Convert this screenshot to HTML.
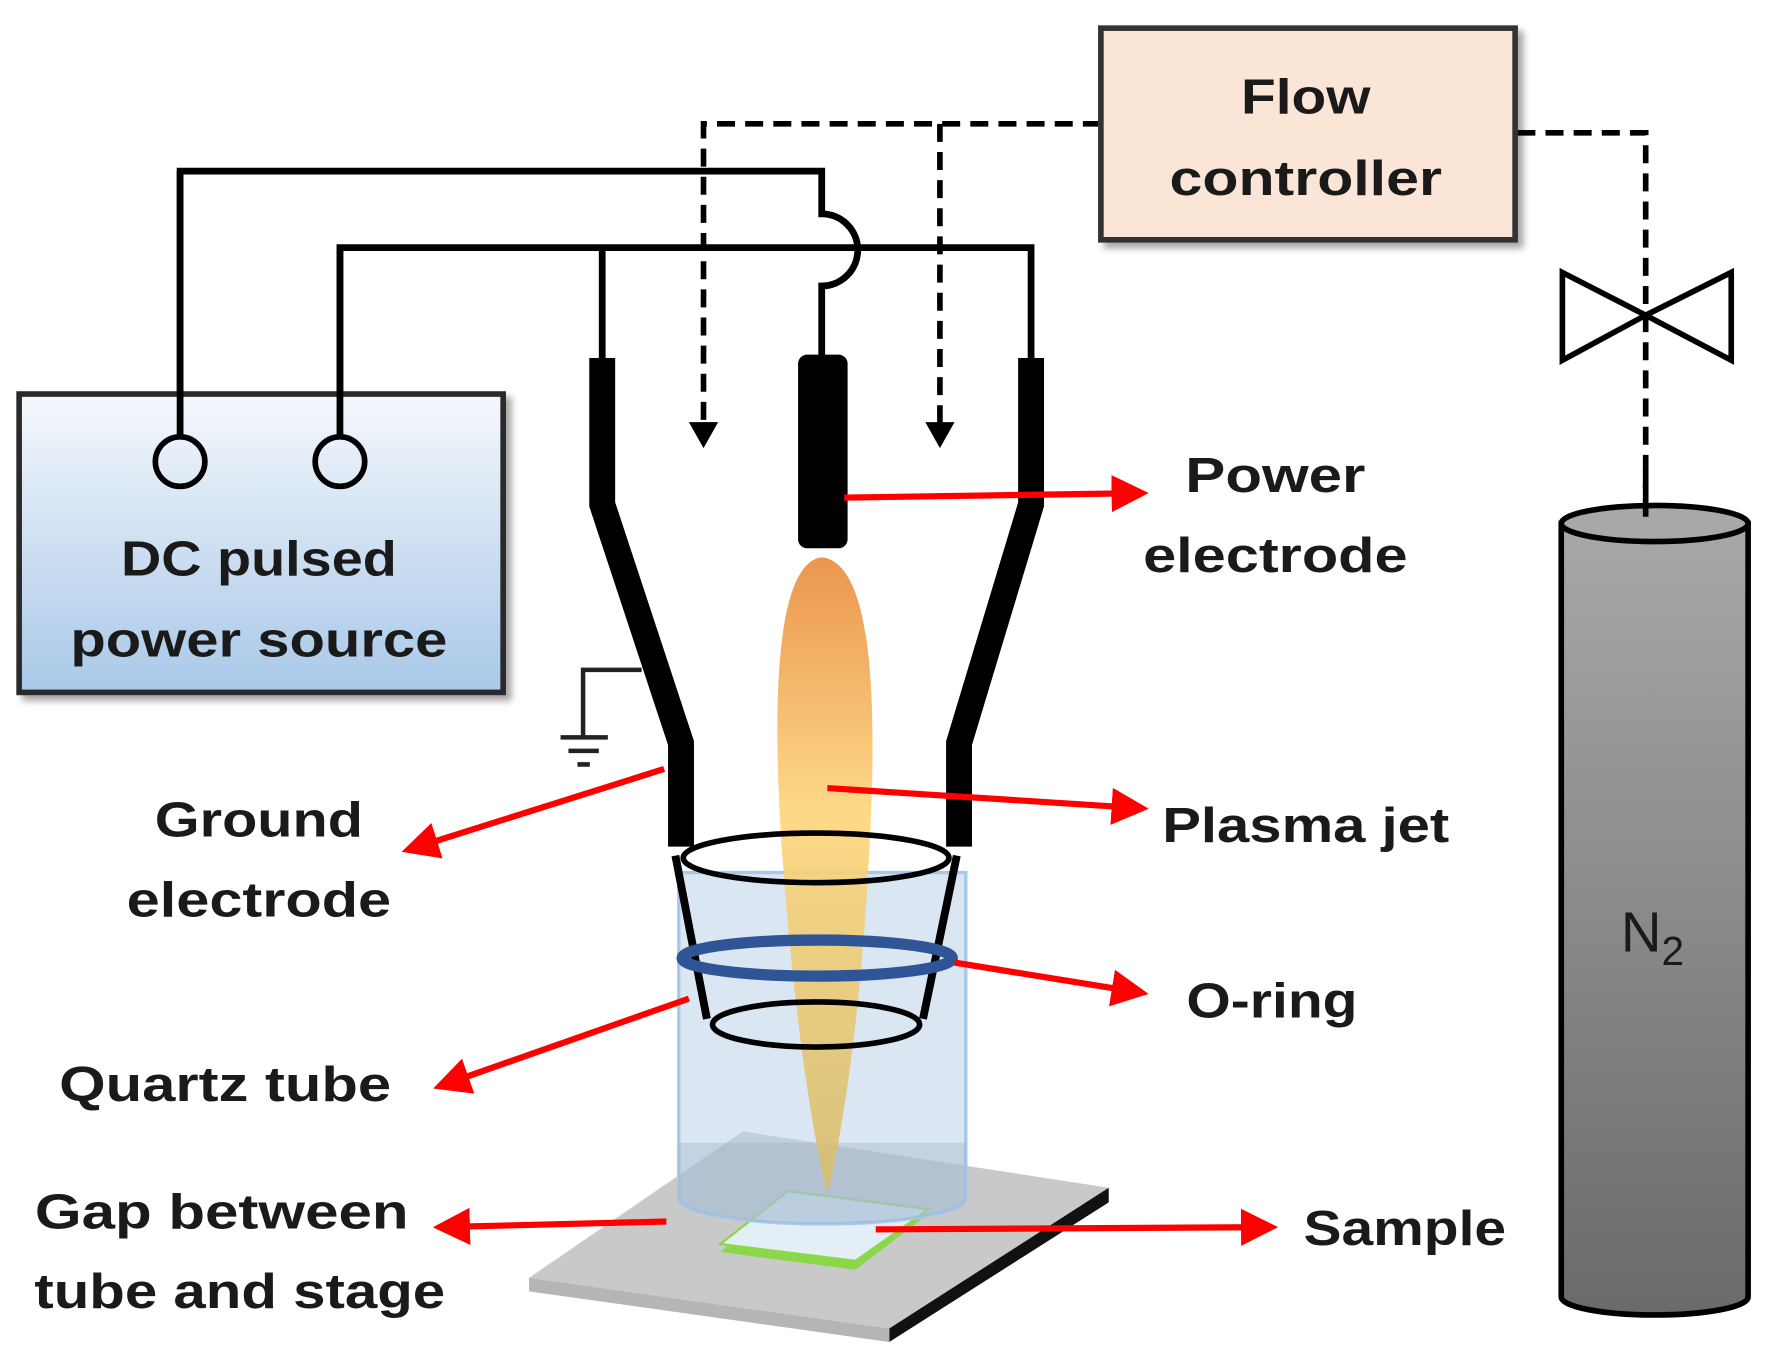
<!DOCTYPE html>
<html><head><meta charset="utf-8"><style>html,body{margin:0;padding:0;background:#fff}svg{display:block}</style></head>
<body>
<svg width="1765" height="1360" viewBox="0 0 1568 1208" preserveAspectRatio="none" xmlns="http://www.w3.org/2000/svg">
<defs>
<linearGradient id="dc" x1="0" y1="0" x2="0" y2="1"><stop offset="0" stop-color="#f4f8fc"/><stop offset="1" stop-color="#a9c8e8"/></linearGradient>
<linearGradient id="pl" x1="0" y1="0" x2="0" y2="1"><stop offset="0" stop-color="#e98a3a"/><stop offset="0.4" stop-color="#fdd57a"/><stop offset="1" stop-color="#d6bd6e"/></linearGradient>
<linearGradient id="cy" x1="0" y1="0" x2="0" y2="1"><stop offset="0" stop-color="#a8a8a8"/><stop offset="1" stop-color="#6a6a6a"/></linearGradient>
<filter id="sh"><feDropShadow dx="5" dy="5" stdDeviation="3" flood-color="#000" flood-opacity="0.35"/></filter>
<marker id="ar" markerWidth="6" markerHeight="6" refX="5" refY="3" orient="auto" markerUnits="strokeWidth"><path d="M0,0 L6,3 L0,6 z" fill="#f00"/></marker>
</defs>
<!-- stage -->
<polygon points="470,1135 660,1005 985,1055 790,1180" fill="#c9c9c9"/>
<polygon points="790,1180 985,1055 985,1068 790,1192" fill="#111"/>
<polygon points="470,1135 790,1180 790,1192 470,1147" fill="#b5b5b5"/>
<!-- sample -->
<polygon points="640,1112 700,1062 825,1078 760,1128" fill="#8ad84a"/>
<polygon points="640,1105 700,1058 825,1074 760,1120" fill="#e4eef6" stroke="#8ad84a" stroke-width="2"/>
<!-- quartz tube -->
<path d="M603,775 L603,1065 A127,22 0 0 0 858,1065 L858,775 Z" fill="#bcd3ea" fill-opacity="0.55" stroke="#a8c8ea" stroke-width="3"/>
<path d="M603,1015 L603,1065 A127,22 0 0 0 858,1065 L858,1015 Z" fill="#8fa4b8" fill-opacity="0.3"/>
<!-- plasma -->
<path d="M730,495 C775,500 780,620 772,760 C765,900 748,1010 735,1060 C722,1010 705,900 695,760 C685,620 690,500 730,495 Z" fill="url(#pl)" opacity="0.9"/>
<!-- nozzle cone -->
<path d="M600,760 L628,905 M850,760 L820,905" stroke="#000" stroke-width="7" fill="none"/>
<ellipse cx="725" cy="762" rx="118" ry="22" fill="none" stroke="#000" stroke-width="5"/>
<ellipse cx="725" cy="910" rx="92" ry="20" fill="none" stroke="#000" stroke-width="5"/>
<ellipse cx="726" cy="851" rx="120" ry="16" fill="none" stroke="#2f5597" stroke-width="10"/>
<!-- electrodes -->
<path d="M535,318 L535,448 L605,660 L605,752" stroke="#000" stroke-width="23" fill="none"/>
<path d="M916,318 L916,448 L852,660 L852,752" stroke="#000" stroke-width="23" fill="none"/>
<rect x="709" y="315" width="44" height="172" rx="8" fill="#000"/>
<!-- wires -->
<path d="M160,388 L160,152 L730,152 L730,190 A32,32 0 0 1 730,254 L730,318" stroke="#000" stroke-width="6" fill="none"/>
<path d="M302,388 L302,220 L916,220 L916,318 M535,220 L535,318" stroke="#000" stroke-width="6" fill="none"/>
<!-- ground -->
<path d="M570,595 L518,595 L518,655 M498,655 L540,655 M505,667 L532,667 M513,679 L524,679" stroke="#222" stroke-width="4" fill="none"/>
<!-- dashed -->
<path d="M978,110 L625,110 L625,385 M835,110 L835,385" stroke="#000" stroke-width="5" stroke-dasharray="16,9" fill="none"/>
<path d="M612,375 L638,375 L625,398 Z M822,375 L848,375 L835,398 Z" fill="#000"/>
<path d="M1348,118 L1462,118 L1462,465" stroke="#000" stroke-width="5" stroke-dasharray="16,9" fill="none"/>
<path d="M1388,242 L1462,280 L1388,320 Z M1538,242 L1462,280 L1538,320 Z" fill="#fff" stroke="#000" stroke-width="5"/>
<!-- DC box -->
<rect x="17" y="350" width="430" height="265" fill="url(#dc)" stroke="#2b2b2b" stroke-width="5" filter="url(#sh)"/>
<circle cx="160" cy="410" r="22" fill="none" stroke="#000" stroke-width="5"/>
<circle cx="302" cy="410" r="22" fill="none" stroke="#000" stroke-width="5"/>
<path d="M160,152 L160,388 M302,220 L302,388" stroke="#000" stroke-width="6"/>
<!-- flow controller -->
<rect x="978" y="25" width="368" height="188" fill="#fbe5d6" stroke="#333" stroke-width="5" filter="url(#sh)"/>
<!-- N2 cylinder -->
<path d="M1387,465 L1387,1152 A83,16 0 0 0 1553,1152 L1553,465 Z" fill="url(#cy)" stroke="#000" stroke-width="5"/>
<ellipse cx="1470" cy="465" rx="83" ry="16" fill="#a8a8a8" stroke="#000" stroke-width="5"/>
<path d="M1462,418 L1462,465" stroke="#000" stroke-width="5" stroke-dasharray="16,9"/>
<!-- red arrows -->
<g stroke="#f00" stroke-width="5.5" fill="none" marker-end="url(#ar)">
<path d="M750,442 L1015,438"/>
<path d="M735,700 L1015,718"/>
<path d="M848,855 L1015,882"/>
<path d="M590,683 L362,755"/>
<path d="M612,887 L390,965"/>
<path d="M592,1085 L390,1090"/>
<path d="M778,1092 L1130,1090"/>
</g>
<!-- text -->
<g font-family="Liberation Sans, sans-serif" font-weight="bold" font-size="44" fill="#1a1a1a" text-anchor="middle">
<text x="230" y="511" textLength="245" lengthAdjust="spacingAndGlyphs">DC pulsed</text>
<text x="230" y="583" textLength="335" lengthAdjust="spacingAndGlyphs">power source</text>
<text x="1160" y="101" textLength="115" lengthAdjust="spacingAndGlyphs">Flow</text>
<text x="1160" y="173" textLength="242" lengthAdjust="spacingAndGlyphs">controller</text>
<text x="1133" y="437" textLength="160" lengthAdjust="spacingAndGlyphs">Power</text>
<text x="1133" y="508" textLength="235" lengthAdjust="spacingAndGlyphs">electrode</text>
<text x="1160" y="748" textLength="255" lengthAdjust="spacingAndGlyphs">Plasma jet</text>
<text x="1130" y="904" textLength="152" lengthAdjust="spacingAndGlyphs">O-ring</text>
<text x="230" y="743" textLength="185" lengthAdjust="spacingAndGlyphs">Ground</text>
<text x="230" y="814" textLength="235" lengthAdjust="spacingAndGlyphs">electrode</text>
<text x="200" y="978" textLength="295" lengthAdjust="spacingAndGlyphs">Quartz tube</text>
<text x="197" y="1091" textLength="332" lengthAdjust="spacingAndGlyphs">Gap between</text>
<text x="213" y="1162" textLength="365" lengthAdjust="spacingAndGlyphs">tube and stage</text>
<text x="1248" y="1106" textLength="180" lengthAdjust="spacingAndGlyphs">Sample</text>
</g>
<text x="1440" y="845" font-family="Liberation Sans, sans-serif" font-size="50" fill="#1a1a1a">N<tspan font-size="36" dy="12">2</tspan></text>
</svg>
</body></html>
